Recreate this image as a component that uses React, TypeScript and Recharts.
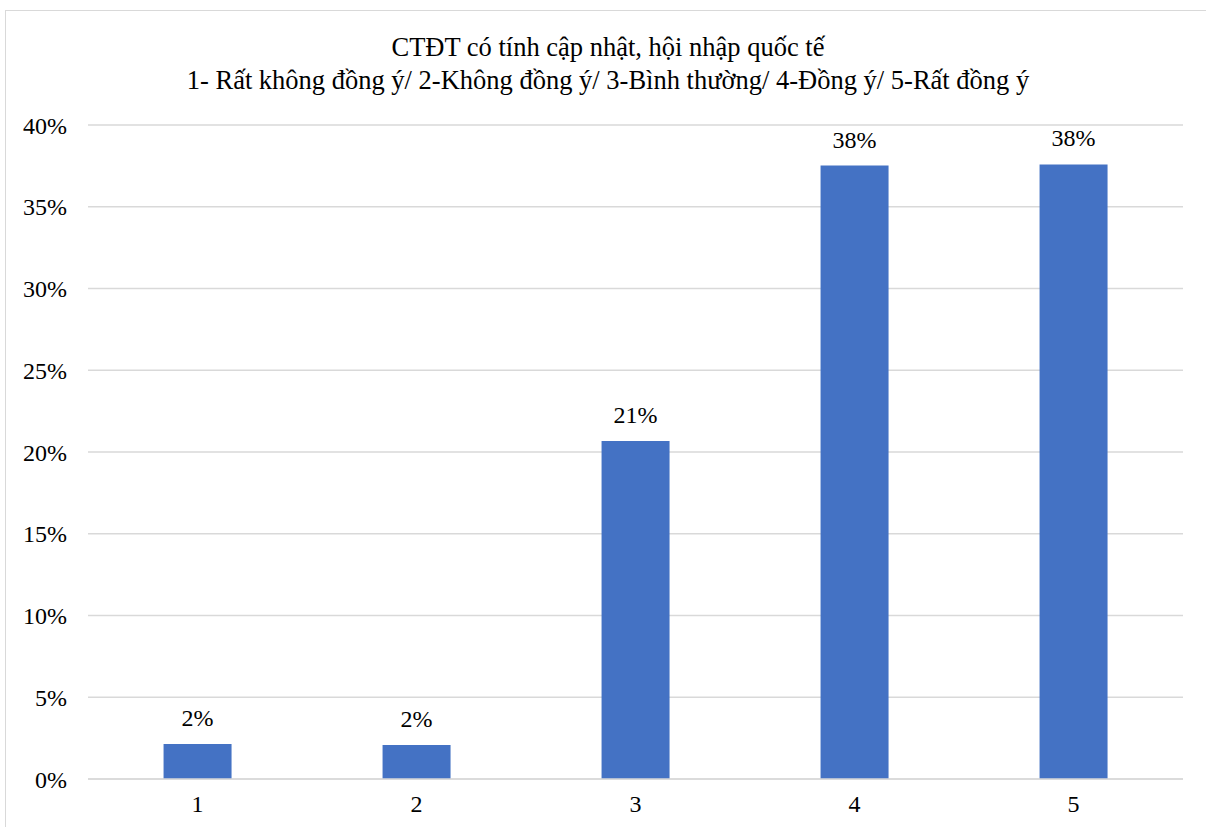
import React from 'react';
import { BarChart, Bar, XAxis, YAxis, CartesianGrid, LabelList } from 'recharts';

const categories = ['1', '2', '3', '4', '5'];
const shares = [0.0214, 0.0208, 0.2067, 0.3752, 0.3759];
const yTicks = [0, 0.05, 0.1, 0.15, 0.2, 0.25, 0.3, 0.35, 0.4];
const titleLines = [
    'CTĐT có tính cập nhật, hội nhập quốc tế',
    '1- Rất không đồng ý/ 2-Không đồng ý/ 3-Bình thường/ 4-Đồng ý/ 5-Rất đồng ý',
];

const data = categories.map((c, i) => ({ name: c, value: shares[i] }));

const FONT = '"Liberation Serif", "Times New Roman", serif';
const pct = (v: any) => `${Math.round(Number(v) * 100)}%`;

export default function App() {
    return (
        <div style={{ position: 'absolute', left: 0, top: 0, width: 1206, height: 827, overflow: 'hidden', background: '#fff', fontFamily: FONT }}>
            <div style={{ position: 'absolute', left: 5, top: 10, width: 1220, height: 900, border: '1px solid #d9d9d9' }} />
            <div style={{ position: 'absolute', left: 0, top: 31, width: 1216, textAlign: 'center', fontSize: 26.5, lineHeight: '33px', color: '#000' }}>
                {titleLines.map((t) => (
                    <div key={t}>{t}</div>
                ))}
            </div>
            <div style={{ position: 'absolute', left: 0, top: 0 }}>
                <BarChart
                    width={1206}
                    height={827}
                    data={data}
                    margin={{ top: 125, right: 23, left: 0, bottom: 18 }}
                    barCategoryGap="34.5%"
                >
                    <CartesianGrid vertical={false} stroke="#d9d9d9" strokeWidth={1.5} />
                    <XAxis
                        dataKey="name"
                        axisLine={{ stroke: '#d9d9d9', strokeWidth: 1.5 }}
                        tickLine={false}
                        tickSize={0}
                        tickMargin={16}
                        tick={{ fill: '#000', fontSize: 24, fontFamily: FONT }}
                    />
                    <YAxis
                        width={88}
                        domain={[0, 0.4]}
                        ticks={yTicks}
                        axisLine={false}
                        tickLine={false}
                        tickSize={0}
                        tickMargin={21}
                        tickFormatter={pct}
                        tick={{ fill: '#000', fontSize: 24, fontFamily: FONT }}
                    />
                    <Bar dataKey="value" fill="#4472c4" isAnimationActive={false}>
                        <LabelList
                            dataKey="value"
                            position="top"
                            offset={18}
                            formatter={pct}
                            style={{ fill: '#000', fontSize: 24, fontFamily: FONT }}
                        />
                    </Bar>
                </BarChart>
            </div>
        </div>
    );
}
